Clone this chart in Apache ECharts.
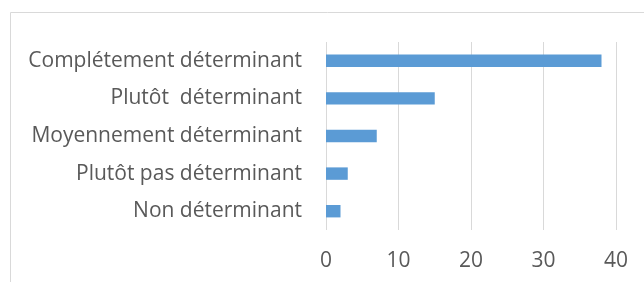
<!DOCTYPE html>
<html>
<head>
<meta charset="utf-8">
<script src="https://cdn.jsdelivr.net/npm/echarts@6/dist/echarts.min.js"></script>
<style>
  html, body { margin: 0; padding: 0; background: #fff; }
  #chart { width: 644px; height: 282px; }
</style>
</head>
<body>
<div id="chart"></div>
<script>
const categories = [
  'Non déterminant',
  'Plutôt pas déterminant',
  'Moyennement déterminant',
  'Plutôt  déterminant',
  'Complétement déterminant',
]
const values = [2, 3, 7, 15, 38]
const xTicks = { min: 0, max: 40, interval: 10 }

const chart = echarts.init(document.getElementById('chart'))
chart.setOption({
  animation: false,
  textStyle: { fontFamily: 'Open Sans' },
  graphic: [{
    type: 'rect',
    shape: { x: 10.5, y: 12.5, width: 700, height: 300 },
    style: { fill: 'none', stroke: '#d9d9d9', lineWidth: 1 },
    silent: true,
  }],
  grid: { left: 326, right: 28, top: 42, bottom: 52 },
  xAxis: {
    type: 'value',
    min: xTicks.min,
    max: xTicks.max,
    interval: xTicks.interval,
    axisLine: { show: false },
    axisTick: { show: false },
    axisLabel: { color: '#595959', fontSize: 21, margin: 21 },
    splitLine: { lineStyle: { color: '#d9d9d9', width: 1 } },
  },
  yAxis: {
    type: 'category',
    data: categories,
    axisLine: { show: false },
    axisTick: { show: false },
    axisLabel: { color: '#595959', fontSize: 21, margin: 24 },
  },
  series: [{
    type: 'bar',
    data: values,
    barWidth: '33%',
    itemStyle: { color: '#5b9bd5' },
  }],
})
</script>
</body>
</html>
